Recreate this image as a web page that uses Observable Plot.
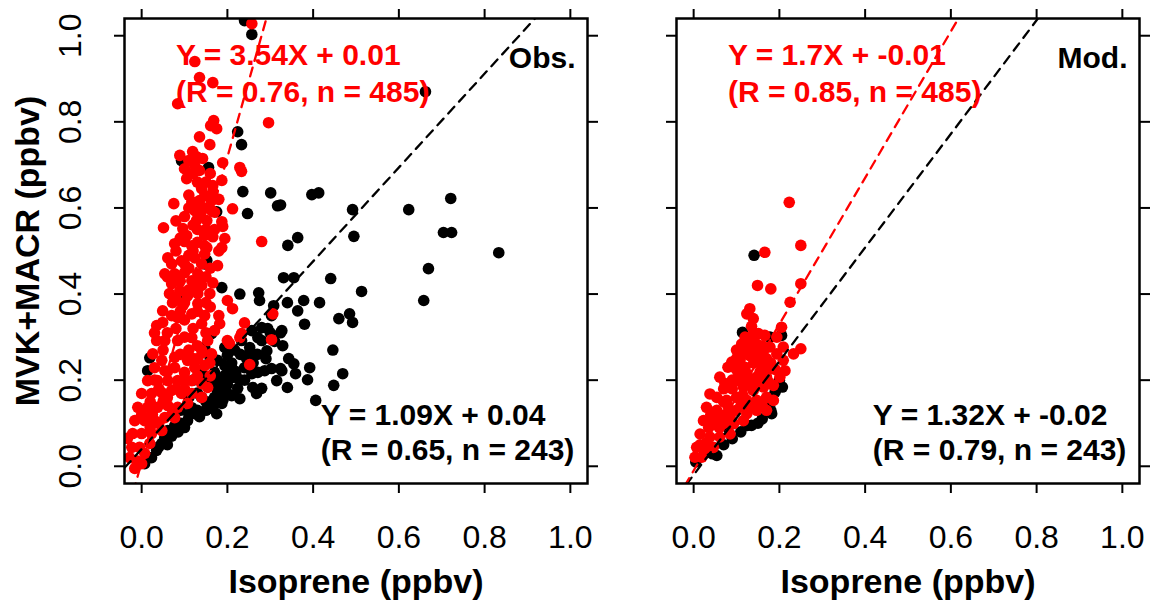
<!DOCTYPE html>
<html>
<head>
<meta charset="utf-8">
<script src="https://cdn.jsdelivr.net/npm/d3@7"></script>
<script src="https://cdn.jsdelivr.net/npm/@observablehq/plot@0.6"></script>
<style>
  html, body { margin: 0; padding: 0; background: #fff; }
  #chart { position: relative; width: 1159px; height: 601px; overflow: hidden; }
  #chart > svg { position: absolute; top: 0; }
</style>
</head>
<body>
<div id="chart"></div>
<script>
// ---------- data ----------
const axisTicks = [0, 0.2, 0.4, 0.6, 0.8, 1.0];
const xTitle = "Isoprene (ppbv)";
const yTitle = "MVK+MACR (ppbv)";
const panelTags = ["Obs.", "Mod."];

// regression fits [slope, intercept]
const obsBlackFit = [1.09, 0.04];
const obsRedFit = [3.54, 0.01];
const modBlackFit = [1.32, -0.02];
const modRedFit = [1.7, -0.01];

const obsBlackLabels = ["Y = 1.09X + 0.04", "(R = 0.65, n = 243)"];
const obsRedLabels = ["Y = 3.54X + 0.01", "(R = 0.76, n = 485)"];
const modBlackLabels = ["Y = 1.32X + -0.02", "(R = 0.79, n = 243)"];
const modRedLabels = ["Y = 1.7X + -0.01", "(R = 0.85, n = 485)"];

// Observed: black points [isoprene, MVK+MACR]
const obsBlack = [
[0.12,0.2],[0.14,0.22],[0.13,0.17],[0.15,0.2],[0.16,0.25],[0.11,0.16],[0.09,0.13],[0.14,0.16],[0.18,0.2],[0.2,0.19],
[0.492,0.596],[0.623,0.596],[0.721,0.622],[0.495,0.534],[0.704,0.543],[0.723,0.543],[0.833,0.496],[0.669,0.459],
[0.658,0.385],[0.441,0.436],[0.513,0.406],[0.46,0.343],[0.485,0.354],[0.492,0.334],[0.446,0.27],[0.469,0.215],[0.448,0.188],
[0.331,0.438],[0.355,0.438],[0.34,0.38],[0.378,0.385],[0.364,0.361],[0.415,0.38],[0.38,0.33],[0.324,0.31],[0.329,0.28],
[0.343,0.25],[0.355,0.238],[0.359,0.215],[0.324,0.227],[0.392,0.229],[0.387,0.201],[0.34,0.183],[0.406,0.153],
[0.341,0.513],[0.229,0.40],[0.273,0.403],[0.275,0.385],[0.308,0.373],[0.303,0.35],[0.28,0.322],[0.294,0.32],[0.327,0.315],
[0.271,0.299],[0.28,0.292],[0.257,0.315],[0.233,0.292],[0.252,0.276],[0.217,0.27],[0.2,0.258],[0.194,0.276],[0.292,0.268],
[0.303,0.227],[0.327,0.222],[0.24,0.229],[0.257,0.215],[0.271,0.218],[0.287,0.222],[0.315,0.199],[0.259,0.183],[0.28,0.181],
[0.268,0.169],[0.224,0.181],[0.229,0.157],[0.177,0.246],[0.194,0.234],[0.21,0.229],[0.17,0.218],[0.194,0.211],[0.21,0.206],
[0.222,0.206],[0.163,0.192],[0.177,0.176],[0.194,0.169],[0.21,0.164],[0.177,0.153],[0.187,0.146],[0.166,0.134],[0.175,0.122],
[0.117,0.136],[0.124,0.122],[0.107,0.106],[0.093,0.099],[0.077,0.094],[0.061,0.083],[0.054,0.067],[0.047,0.053],[0.035,0.037],
[0.023,0.02],[0.007,0.006],[0.019,0.252],[0.014,0.222],[0.147,0.47],[0.152,0.478],[0.187,0.415],[0.1,0.385],[0.163,0.308],
[0.147,0.276],[0.24,1.035],[0.257,1.003],[0.224,0.777],[0.233,0.747],[0.156,0.694],[0.093,0.71],[0.236,0.638],[0.301,0.635],
[0.317,0.605],[0.397,0.631],[0.413,0.635],[0.247,0.587],[0.175,0.591],[0.364,0.531],[0.324,0.607],[0.662,0.87],
[0.135,0.115],[0.15,0.13],[0.16,0.15],[0.1,0.09],[0.085,0.08],[0.2,0.17],[0.185,0.19],[0.23,0.2],[0.245,0.25],[0.26,0.24],
[0.07,0.07],[0.09,0.1],[0.11,0.12],[0.13,0.13],[0.15,0.15],[0.17,0.16],[0.04,0.045],[0.06,0.05],[0.19,0.155],[0.22,0.22],
[0.24,0.2],[0.25,0.26],[0.27,0.26],[0.29,0.25],[0.31,0.29],[0.3,0.31],[0.21,0.24],[0.23,0.26]
];

// Observed: red points
const obsRed = [
[0.257,1.028],[0.124,0.94],[0.135,0.903],[0.166,0.891],[0.084,0.842],[0.296,0.798],[0.168,0.803],[0.175,0.784],[0.161,0.791],
[0.135,0.765],[0.159,0.747],[0.089,0.722],[0.119,0.731],[0.128,0.719],[0.142,0.715],[0.124,0.698],[0.135,0.687],[0.1,0.691],
[0.189,0.705],[0.229,0.694],[0.233,0.685],[0.105,0.668],[0.187,0.664],[0.166,0.652],[0.14,0.645],[0.147,0.628],[0.166,0.638],
[0.135,0.617],[0.163,0.617],[0.117,0.614],[0.124,0.594],[0.131,0.605],[0.075,0.61],[0.163,0.594],[0.138,0.582],[0.128,0.571],
[0.152,0.571],[0.212,0.598],[0.187,0.568],[0.189,0.557],[0.051,0.554],[0.096,0.552],[0.105,0.536],[0.1,0.522],[0.147,0.536],
[0.166,0.533],[0.194,0.529],[0.147,0.512],[0.28,0.522],[0.077,0.517],[0.117,0.512],[0.152,0.508],[0.187,0.508],[0.061,0.484],
[0.093,0.477],[0.124,0.484],[0.147,0.493],[0.177,0.466],[0.054,0.447],[0.077,0.447],[0.1,0.45],[0.131,0.447],[0.117,0.431],
[0.07,0.424],[0.166,0.426],[0.159,0.401],[0.065,0.401],[0.089,0.408],[0.107,0.396],[0.131,0.401],[0.072,0.38],[0.096,0.373],
[0.131,0.378],[0.2,0.385],[0.212,0.366],[0.049,0.361],[0.07,0.35],[0.049,0.334],[0.084,0.345],[0.117,0.354],[0.147,0.35],
[0.14,0.331],[0.035,0.327],[0.182,0.331],[0.17,0.315],[0.24,0.333],[0.233,0.308],[0.229,0.299],[0.306,0.354],[0.303,0.294],
[0.2,0.292],[0.205,0.285],[0.154,0.292],[0.117,0.299],[0.084,0.292],[0.054,0.292],[0.035,0.292],[0.163,0.261],[0.142,0.264],
[0.252,0.236],[0.026,0.261],[0.047,0.246],[0.077,0.253],[0.107,0.246],[0.131,0.25],[0.03,0.229],[0.054,0.222],[0.077,0.229],
[0.1,0.218],[0.124,0.229],[0.147,0.234],[0.159,0.24],[0.014,0.199],[0.037,0.199],[0.061,0.199],[0.084,0.199],[0.117,0.199],
[0.14,0.192],[0.154,0.183],[0,0.169],[0.023,0.169],[0.047,0.171],[0.07,0.176],[0.093,0.169],[0.117,0.169],[0.14,0.16],
[-0.009,0.137],[0.014,0.137],[0.037,0.137],[0.061,0.141],[0.084,0.137],[0.107,0.146],[-0.016,0.106],[0.007,0.106],[0.03,0.106],
[0.054,0.113],[0.077,0.113],[-0.021,0.076],[0,0.076],[0.023,0.076],[0.047,0.083],[-0.033,0.065],[-0.023,0.044],[-0.005,0.044],
[0.019,0.053],[-0.028,0.02],[-0.012,0.013],[0.007,0.03],[-0.016,-0.005],[0,0.006],
[0.0,0.12],[0.02,0.15],[0.04,0.18],[0.06,0.22],[0.09,0.26],[0.1,0.3],[0.12,0.32],[0.1,0.34],[0.08,0.32],[0.06,0.31],
[0.03,0.31],[0.05,0.27],[0.11,0.27],[0.13,0.28],[0.09,0.36],[0.1,0.38],[0.12,0.41],[0.09,0.43],[0.14,0.42],[0.11,0.46],
[0.08,0.5],[0.11,0.49],[0.13,0.52],[0.1,0.58],[0.12,0.56],[0.15,0.55],[0.03,0.2],[0.05,0.15],[0.07,0.12],[0.025,0.12],
[0.1,0.18],[0.13,0.21],[0.16,0.21],[0.08,0.39],[0.06,0.44],[0.14,0.47],[0.16,0.46],[0.08,0.57],[0.11,0.63],[0.15,0.66],
[0.02,0.09],[0.04,0.1],[0.06,0.16],[0.08,0.18],[0.1,0.2],[0.12,0.25],[0.14,0.27],[0.15,0.31],[0.13,0.36],[0.15,0.38],
[0.11,0.41],[0.13,0.43],[0.15,0.44],[0.07,0.47],[0.1,0.47],[0.12,0.5],[0.09,0.53],[0.13,0.55],[0.11,0.6],[0.15,0.6],
[0.17,0.59],[0.13,0.66],[0.12,0.68],[0.16,0.68],[0.11,0.71],[0.18,0.62],[0.17,0.55],[0.18,0.5],[0.16,0.37],[0.18,0.35]
];

// Modelled: black points
const modBlack = [
[0.141,0.49],[0.114,0.311],[0.178,0.3],[0.205,0.304],[0.207,0.184],[0.19,0.172],[0.18,0.13],[0.182,0.122],[0.125,0.095],
[0.135,0.095],[0.09,0.064],[0.054,0.025],[0.044,0.029],[0.005,0.01],[0.159,0.207],[0.16,0.11],[0.15,0.1],[0.11,0.08],
[0.07,0.05],[0.17,0.15],[0.2,0.2],[0.12,0.14],[0.08,0.09],[0.026,0.03]
];

// Modelled: red points
const modRed = [
[0.223,0.613],[0.25,0.513],[0.166,0.497],[0.149,0.42],[0.18,0.412],[0.25,0.424],[0.225,0.381],[0.131,0.366],[0.139,0.343],
[0.124,0.354],[0.205,0.323],[0.151,0.308],[0.166,0.304],[0.147,0.284],[0.194,0.3],[0.25,0.273],[0.233,0.261],[0.112,0.284],
[0.12,0.261],[0.108,0.246],[0.089,0.242],[0.131,0.257],[0.163,0.269],[0.178,0.277],[0.194,0.261],[0.209,0.246],[0.209,0.277],
[0.213,0.222],[0.201,0.207],[0.08,0.23],[0.1,0.25],[0.14,0.24],[0.16,0.235],[0.12,0.23],[0.18,0.24],[0.145,0.265],
[0.061,0.207],[0.073,0.192],[0.1,0.199],[0.124,0.215],[0.147,0.207],[0.17,0.207],[0.116,0.184],[0.139,0.176],[0.163,0.184],
[0.186,0.188],[0.038,0.168],[0.054,0.16],[0.077,0.153],[0.1,0.16],[0.124,0.153],[0.147,0.153],[0.17,0.16],[0.186,0.153],
[0.03,0.137],[0.054,0.13],[0.077,0.122],[0.1,0.13],[0.124,0.122],[0.147,0.13],[0.17,0.13],[0.023,0.106],[0.046,0.099],
[0.069,0.099],[0.093,0.099],[0.116,0.106],[0.015,0.075],[0.038,0.068],[0.061,0.068],[0.085,0.075],[0.007,0.044],[0.026,0.041],
[0.046,0.044],[0.003,0.021],[0.019,0.021],
[0.05,0.11],[0.07,0.15],[0.09,0.18],[0.11,0.2],[0.13,0.19],[0.155,0.19],[0.06,0.09],[0.085,0.115],[0.11,0.14],[0.135,0.14],
[0.16,0.14],[0.035,0.09],[0.015,0.05],[0.03,0.055],[0.1,0.225],[0.13,0.28],[0.15,0.255],[0.17,0.25],[0.19,0.225],[0.175,0.195],
[0.12,0.3],[0.14,0.31],[0.135,0.325],
[0.06,0.12],[0.08,0.14],[0.09,0.2],[0.105,0.215],[0.115,0.165],[0.135,0.2],[0.155,0.22],[0.175,0.225],[0.04,0.12],[0.07,0.18],
[0.1,0.27],[0.12,0.27],[0.16,0.28],[0.14,0.29]
];

// ---------- drawing ----------
const dom = [-0.04, 1.04];
const fmt = d => d.toFixed(1);
const none = () => "";
const fitEnds = [-0.04, 1.04];

function panel({black, red, bFit, rFit, bLabels, rLabels, tag, left, marginLeft, marginRight}) {
  const marks = [
    Plot.dot(black, {x: d => d[0], y: d => d[1], r: 5.8, fill: "black", clip: true}),
    Plot.dot(red, {x: d => d[0], y: d => d[1], r: 5.8, fill: "red", clip: true}),
    Plot.line(fitEnds, {x: d => d, y: d => bFit[0] * d + bFit[1], stroke: "black", strokeWidth: 2.3, strokeDasharray: "9,7", clip: true}),
    Plot.line(fitEnds, {x: d => d, y: d => rFit[0] * d + rFit[1], stroke: "red", strokeWidth: 2.3, strokeDasharray: "9,7", clip: true}),
    Plot.frame({stroke: "black", strokeWidth: 2.5}),
    Plot.axisX({anchor: "bottom", ticks: axisTicks, tickSize: 10, tickPadding: 32, fontSize: 32, tickFormat: fmt, strokeWidth: 2, label: null}),
    Plot.axisX({anchor: "top", ticks: axisTicks, tickSize: 10, tickFormat: none, strokeWidth: 2, label: null}),
    Plot.axisY({anchor: "right", ticks: axisTicks, tickSize: 10, tickFormat: none, strokeWidth: 2, label: null}),
    left
      ? Plot.axisY({anchor: "left", ticks: axisTicks, tickSize: 10, tickPadding: 34, tickRotate: -90, fontSize: 32, tickFormat: fmt, strokeWidth: 2, label: null})
      : Plot.axisY({anchor: "left", ticks: axisTicks, tickSize: 10, tickFormat: none, strokeWidth: 2, label: null}),
    Plot.text([xTitle], {text: d => d, frameAnchor: "bottom", dy: 109, textAnchor: "middle", lineAnchor: "bottom", fontSize: 34, fontWeight: "bold", fill: "black"}),
    Plot.text(rLabels, {text: d => d, x: () => 0.08, y: (d, i) => [0.931, 0.847][i], textAnchor: "start", lineAnchor: "bottom", fontSize: 30, fontWeight: "bold", fill: "red"}),
    Plot.text(bLabels, {text: d => d, x: () => 0.418, y: (d, i) => [0.095, 0.0135][i], textAnchor: "start", lineAnchor: "bottom", fontSize: 30, fontWeight: "bold", fill: "black"}),
    Plot.text([tag], {text: d => d, x: () => 1.012, y: () => 0.926, textAnchor: "end", lineAnchor: "bottom", fontSize: 30, fontWeight: "bold", fill: "black"})
  ];
  if (left) {
    marks.push(Plot.text([yTitle], {text: d => d, frameAnchor: "left", dx: -86, rotate: -90, textAnchor: "middle", lineAnchor: "bottom", fontSize: 34, fontWeight: "bold", fill: "black"}));
  }
  return Plot.plot({
    width: 600,
    height: 601,
    marginTop: 18,
    marginBottom: 118,
    marginLeft,
    marginRight,
    x: {domain: dom, label: null},
    y: {domain: dom, label: null},
    style: {fontFamily: "'Liberation Sans', Arial, sans-serif", background: "transparent", color: "black", overflow: "visible"},
    marks
  });
}

const chart = document.getElementById("chart");
const p1 = panel({black: obsBlack, red: obsRed, bFit: obsBlackFit, rFit: obsRedFit, bLabels: obsBlackLabels, rLabels: obsRedLabels, tag: panelTags[0], left: true, marginLeft: 124, marginRight: 13});
p1.style.left = "0px";
const p2 = panel({black: modBlack, red: modRed, bFit: modBlackFit, rFit: modRedFit, bLabels: modBlackLabels, rLabels: modRedLabels, tag: panelTags[1], left: false, marginLeft: 117, marginRight: 20});
p2.style.left = "559px";
chart.appendChild(p1);
chart.appendChild(p2);
</script>
</body>
</html>
